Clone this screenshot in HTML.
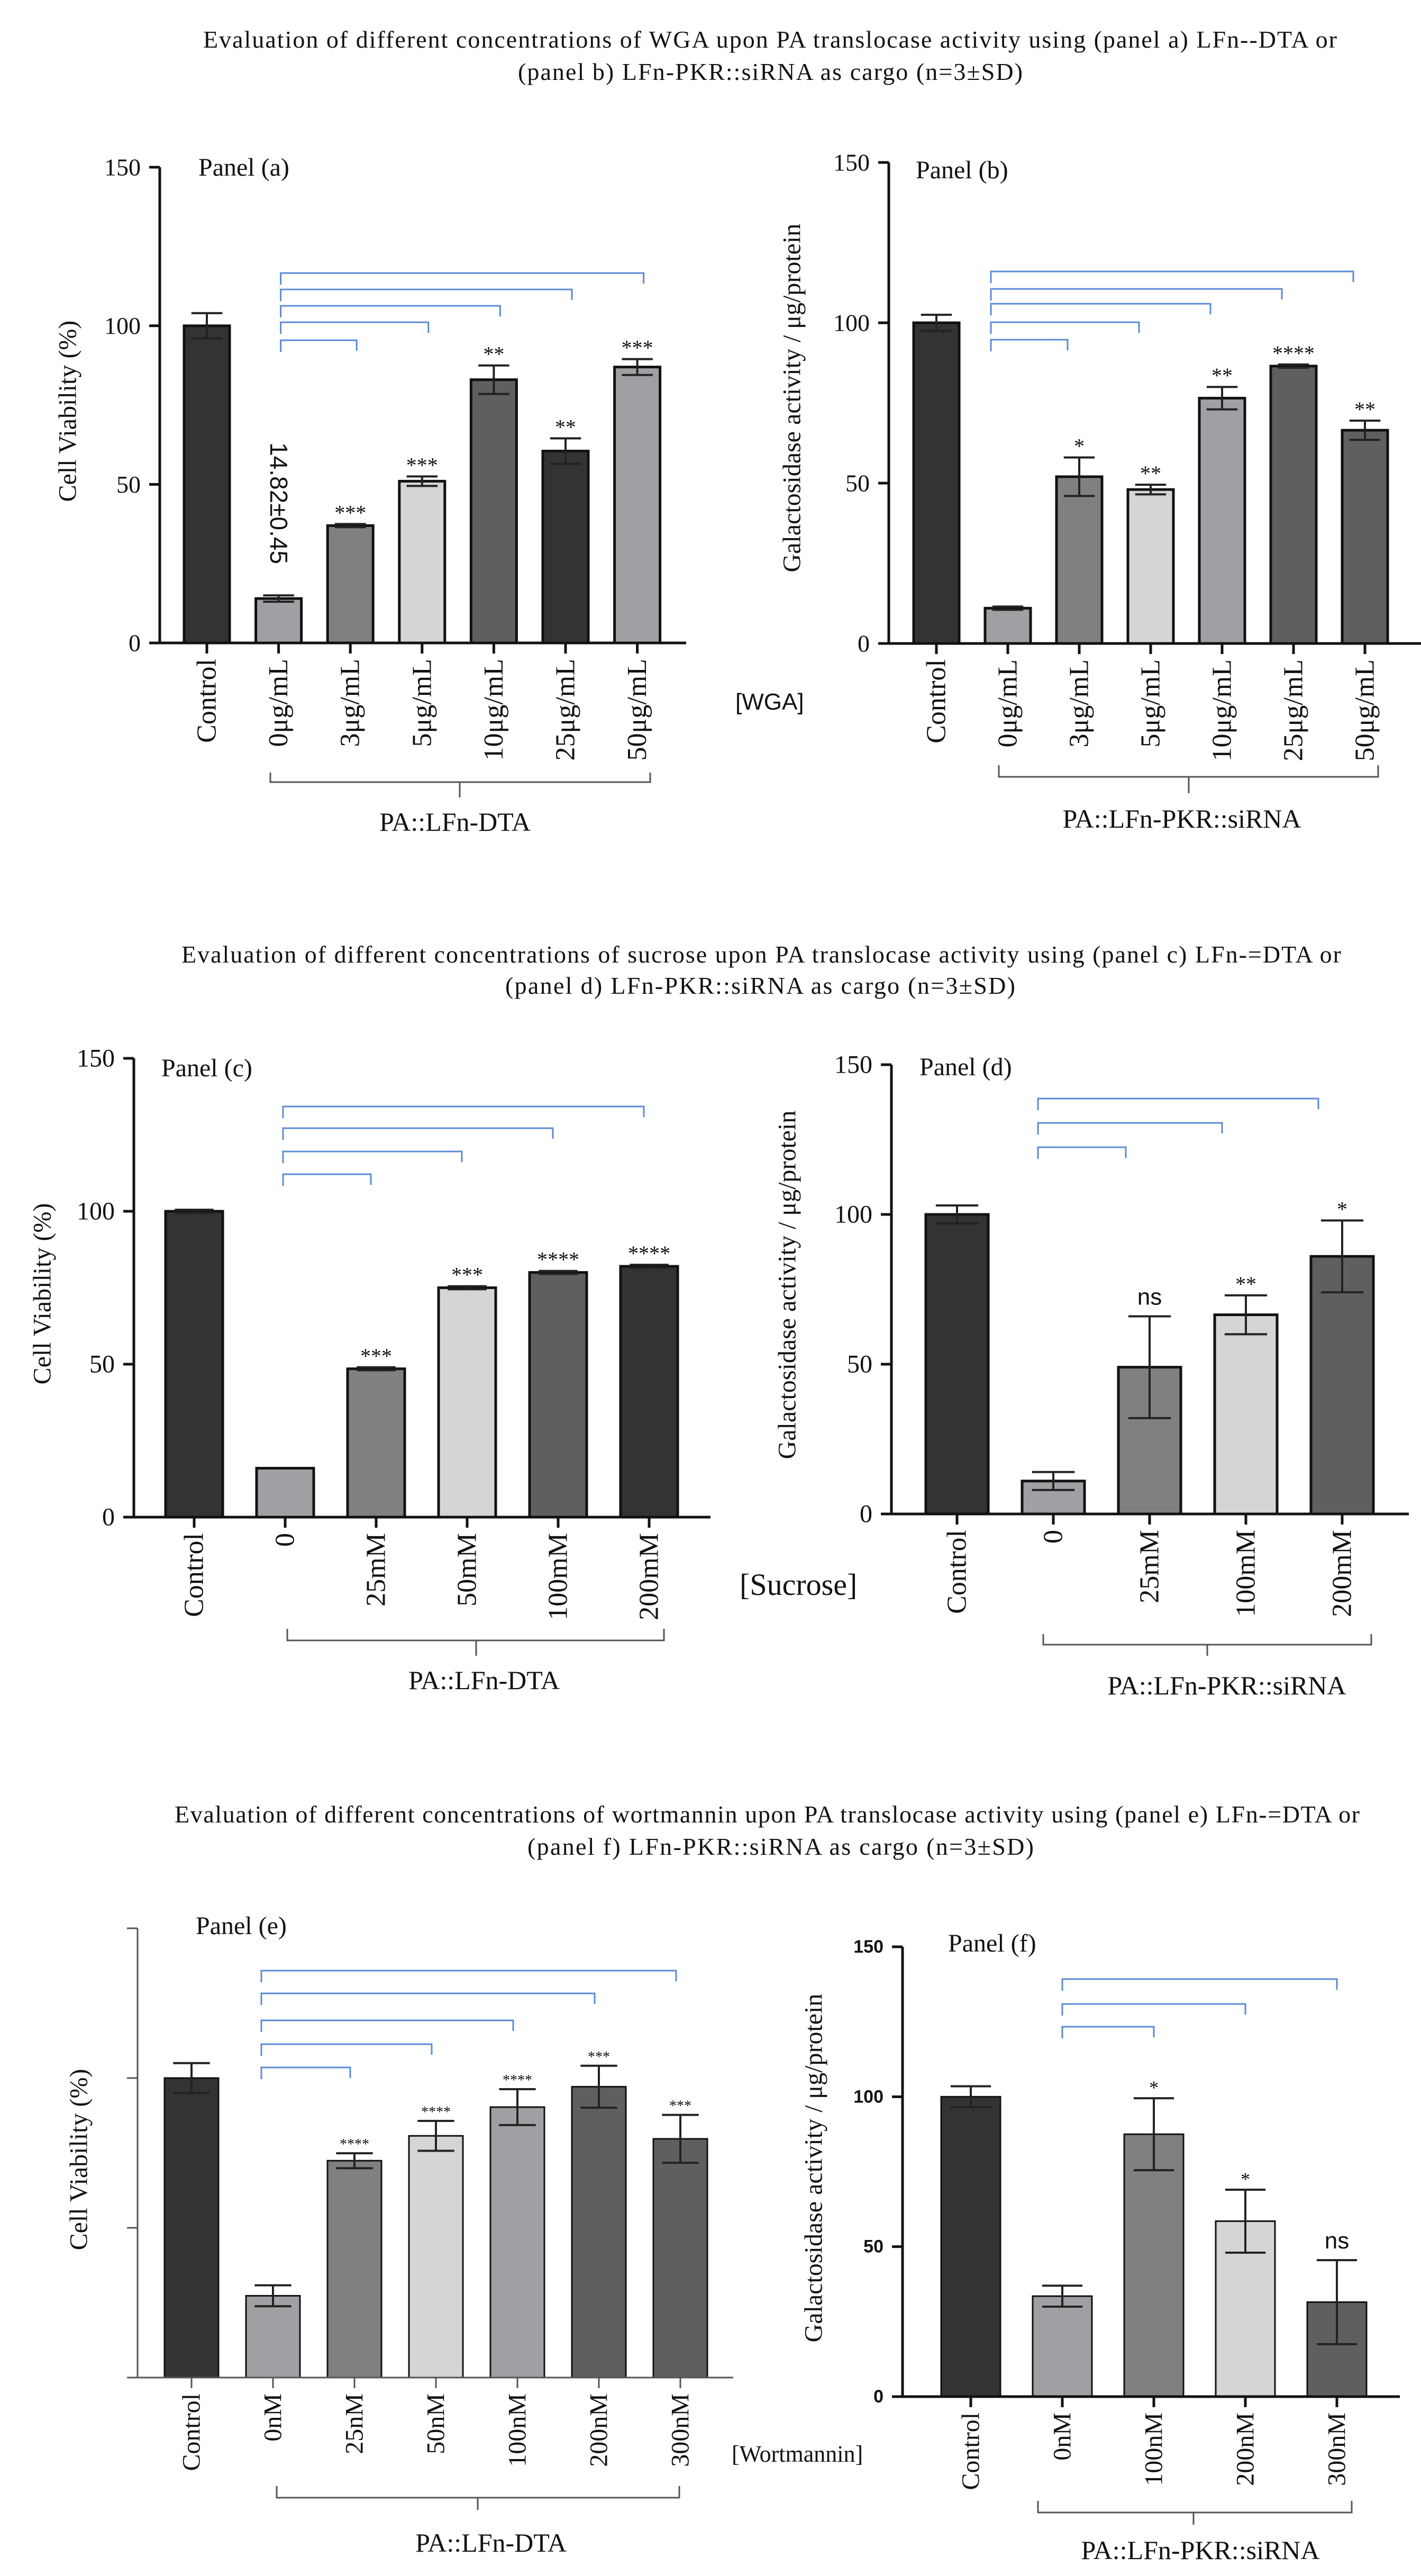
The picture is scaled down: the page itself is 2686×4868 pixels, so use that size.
<!DOCTYPE html>
<html><head><meta charset="utf-8">
<style>
html,body{margin:0;padding:0;background:#fff;}
svg{display:block;}
text{font-family:"Liberation Serif",serif;fill:#111;}
.sans{font-family:"Liberation Sans",sans-serif;}
</style></head>
<body>
<svg id="fig" xmlns="http://www.w3.org/2000/svg" width="2686" height="4868" viewBox="0 0 2686 4868">
<rect x="0" y="0" width="2686" height="4868" fill="#fff"/>
<g>
<text x="384" y="90" font-size="46" textLength="2143" lengthAdjust="spacing">Evaluation of different concentrations of WGA upon PA translocase activity using (panel a) LFn--DTA or</text>
<text x="979" y="151" font-size="46" textLength="954" lengthAdjust="spacing">(panel b) LFn-PKR::siRNA as cargo (n=3±SD)</text>
</g>
<g>
<text x="343" y="1819" font-size="46" textLength="2192" lengthAdjust="spacing">Evaluation of different concentrations of sucrose upon PA translocase activity using (panel c) LFn-=DTA or</text>
<text x="955" y="1878" font-size="46" textLength="964" lengthAdjust="spacing">(panel d) LFn-PKR::siRNA as cargo (n=3±SD)</text>
</g>
<g>
<text x="330" y="3444" font-size="46" textLength="2240" lengthAdjust="spacing">Evaluation of different concentrations of wortmannin upon PA translocase activity using (panel e) LFn-=DTA or</text>
<text x="997" y="3505" font-size="46" textLength="957" lengthAdjust="spacing">(panel f) LFn-PKR::siRNA as cargo (n=3±SD)</text>
</g>
<text x="1390" y="1341" font-size="44" class="sans">[WGA]</text>
<text x="1398" y="3014" font-size="58">[Sucrose]</text>
<text x="1383" y="4652" font-size="44">[Wortmannin]</text>
<text class="sans" font-size="46" transform="translate(527,951) rotate(90)" text-anchor="middle" dominant-baseline="central">14.82±0.45</text>
</svg>
<script>
// ---- Panel (a) data ----
const aCategories = ["Control","0μg/mL","3μg/mL","5μg/mL","10μg/mL","25μg/mL","50μg/mL"];
const aValues = [100, 14, 37, 51, 83, 60.5, 87];
const aErrors = [4, 1, 0.5, 1.5, 4.5, 4, 2.5];
const aStars = ["", "", "***", "***", "**", "**", "***"];
const aTicks = [0, 50, 100, 150];
// ---- Panel (b) data ----
const bCategories = ["Control","0μg/mL","3μg/mL","5μg/mL","10μg/mL","25μg/mL","50μg/mL"];
const bValues = [100, 11, 52, 48, 76.5, 86.5, 66.5];
const bErrors = [2.5, 0.5, 6, 1.5, 3.5, 0.5, 3];
const bStars = ["", "", "*", "**", "**", "****", "**"];
const bTicks = [0, 50, 100, 150];
// ---- Panel (c) data ----
const cCategories = ["Control","0","25mM","50mM","100mM","200mM"];
const cValues = [100, 16, 48.5, 75, 80, 82];
const cErrors = [0.5, 0, 0.5, 0.5, 0.5, 0.5];
const cStars = ["", "", "***", "***", "****", "****"];
const cTicks = [0, 50, 100, 150];
// ---- Panel (d) data ----
const dCategories = ["Control","0","25mM","100mM","200mM"];
const dValues = [100, 11, 49, 66.5, 86];
const dErrors = [3, 3, 17, 6.5, 12];
const dStars = ["", "", "ns", "**", "*"];
const dTicks = [0, 50, 100, 150];
// ---- Panel (e) data ----
const eCategories = ["Control","0nM","25nM","50nM","100nM","200nM","300nM"];
const eValues = [100, 27.3, 72.4, 80.7, 90.3, 97.1, 79.7];
const eErrors = [5, 3.5, 2.5, 5, 6, 7, 8];
const eStars = ["", "", "****", "****", "****", "***", "***"];
const eTicks = [0, 50, 100, 150];
// ---- Panel (f) data ----
const fCategories = ["Control","0nM","100nM","200nM","300nM"];
const fValues = [100, 33.5, 87.5, 58.5, 31.5];
const fErrors = [3.5, 3.5, 12, 10.5, 14];
const fStars = ["", "", "*", "*", "ns"];
const fTicks = [0, 50, 100, 150];

const NS = "http://www.w3.org/2000/svg";
const svg = document.getElementById("fig");
function mk(tag, attrs, parent) {
  const el = document.createElementNS(NS, tag);
  for (const k in attrs) el.setAttribute(k, attrs[k]);
  (parent || svg).appendChild(el);
  return el;
}

const panels = [
  {id:"a", cats:aCategories, vals:aValues, errs:aErrors, stars:aStars, ticks:aTicks,
   fills:["#333333","#a0a0a4","#808080","#d4d5d4","#5e5f5e","#333333","#a0a0a4"],
   ax:302, y0:1215, y150:316, bar0:391, step:135.6, bw:86, xEnd:1297,
   ytitle:"Cell Viability (%)", ytx:128, yty:777, label:"Panel (a)", lx:375, ly:332,
   blueTops:[643,609,578,547,516], blueTargets:[2,3,4,5,6], blueL:4, blueR:12,
   lb:{x1:511,x2:1229,xm:869,top:1460,mid:1478,bot:1507,ty:1570,tx:860,text:"PA::LFn-DTA"},
   tickFont:46, starFont:40, labelFont:52},
  {id:"b", cats:bCategories, vals:bValues, errs:bErrors, stars:bStars, ticks:bTicks,
   fills:["#333333","#a0a0a4","#808080","#d4d5d4","#a0a0a4","#5e5f5e","#5e5f5e"],
   ax:1680, y0:1216, y150:307, bar0:1770, step:135, bw:86, xEnd:2686,
   ytitle:"Galactosidase activity / μg/protein", ytx:1497, yty:752, label:"Panel (b)", lx:1731, ly:337,
   blueTops:[642,609,574,546,513], blueTargets:[2,3,4,5,6], blueL:-32, blueR:-22,
   lb:{x1:1888,x2:2605,xm:2247,top:1446,mid:1468,bot:1499,ty:1564,tx:2234,text:"PA::LFn-PKR::siRNA"},
   tickFont:46, starFont:40, labelFont:52},
  {id:"c", cats:cCategories, vals:cValues, errs:cErrors, stars:cStars, ticks:cTicks,
   fills:["#333333","#a0a0a4","#808080","#d4d5d4","#5e5f5e","#333333"],
   ax:253, y0:2867, y150:2000, bar0:367, step:172, bw:108, xEnd:1343,
   ytitle:"Cell Viability (%)", ytx:80, yty:2445, label:"Panel (c)", lx:305, ly:2034,
   blueTops:[2219,2176,2132,2091], blueTargets:[2,3,4,5], blueL:-4, blueR:-10,
   lb:{x1:543,x2:1255,xm:900,top:3078,mid:3100,bot:3129,ty:3192,tx:915,text:"PA::LFn-DTA"},
   tickFont:48, starFont:40, labelFont:52},
  {id:"d", cats:dCategories, vals:dValues, errs:dErrors, stars:dStars, ticks:dTicks,
   fills:["#333333","#a0a0a4","#808080","#d4d5d4","#5e5f5e"],
   ax:1685, y0:2861, y150:2012, bar0:1809, step:182, bw:118, xEnd:2663,
   ytitle:"Galactosidase activity / μg/protein", ytx:1488, yty:2428, label:"Panel (d)", lx:1738, ly:2032,
   blueTops:[2168,2122,2076], blueTargets:[2,3,4], blueL:-29, blueR:-45,
   lb:{x1:1972,x2:2592,xm:2282,top:3088,mid:3108,bot:3129,ty:3202,tx:2319,text:"PA::LFn-PKR::siRNA"},
   tickFont:48, starFont:40, labelFont:52},
  {id:"e", cats:eCategories, vals:eValues, errs:eErrors, stars:eStars, ticks:eTicks,
   fills:["#333333","#a0a0a4","#808080","#d4d5d4","#a0a0a4","#5e5f5e","#5e5f5e"],
   ax:260, y0:4493, y150:3644, bar0:362, step:154, bw:102, xEnd:1386, noTickLabels:true, axisColor:"#555", axisW:3,
   ytitle:"Cell Viability (%)", ytx:149, yty:4081, label:"Panel (e)", lx:370, ly:3655,
   blueTops:[3907,3863,3818,3767,3724], blueTargets:[2,3,4,5,6], blueL:-22, blueR:-8,
   lb:{x1:523,x2:1284,xm:903,top:4698,mid:4720,bot:4743,ty:4822,tx:928,text:"PA::LFn-DTA"},
   tickFont:44, starFont:28, labelFont:48, barW:3},
  {id:"f", cats:fCategories, vals:fValues, errs:fErrors, stars:fStars, ticks:fTicks,
   fills:["#333333","#a0a0a4","#808080","#d4d5d4","#5e5f5e"],
   ax:1706, y0:4529, y150:3679, bar0:1835, step:173, bw:112, xEnd:2646, boldTicks:true,
   ytitle:"Galactosidase activity / μg/protein", ytx:1538, yty:4097, label:"Panel (f)", lx:1792, ly:3688,
   blueTops:[3830,3787,3740], blueTargets:[2,3,4], blueL:0, blueR:0,
   lb:{x1:1962,x2:2555,xm:2256,top:4726,mid:4748,bot:4771,ty:4836,tx:2269,text:"PA::LFn-PKR::siRNA"},
   tickFont:34, starFont:36, labelFont:48, barW:3}
];

panels.forEach(function(p) {
  const g = mk("g", {});
  
  
  const yS = function(v) { return p.y0 - v * (p.y0 - p.y150) / 150; };
  const xS = function(i) { return p.bar0 + i * p.step; };
  const axc = p.axisColor || "#111", aw = p.axisW || 5;

  p.vals.forEach(function(v, i) {
    const r = mk("rect", {x: xS(i) - p.bw/2, y: yS(v), width: p.bw, height: p.y0 - yS(v),
      fill: p.fills[i], stroke: "#111", "stroke-width": p.barW || 5}, g);
    
    
  });
  p.vals.forEach(function(v, i) {
    const e = p.errs[i];
    if (e <= 0) return;
    const cx = xS(i), cw = p.bw * 0.34;
    const eg = mk("g", {stroke: "#222", "stroke-width": 4}, g);
    
    
    mk("line", {x1: cx, x2: cx, y1: yS(v - e), y2: yS(v + e)}, eg);
    mk("line", {x1: cx - cw, x2: cx + cw, y1: yS(v + e), y2: yS(v + e)}, eg);
    mk("line", {x1: cx - cw, x2: cx + cw, y1: yS(v - e), y2: yS(v - e)}, eg);
  });
  p.stars.forEach(function(s, i) {
    if (!s) return;
    const v = p.vals[i] + p.errs[i];
    const isNs = s === "ns";
    const t = mk("text", {x: xS(i), y: yS(v) - (isNs ? 22 : 8), "text-anchor": "middle",
      "font-size": isNs ? 44 : p.starFont}, g);
    if (isNs) t.setAttribute("class", "sans");
    t.textContent = s;
    
    
  });
  const ya = mk("line", {x1: p.ax, x2: p.ax, y1: p.y150, y2: p.y0, stroke: axc, "stroke-width": aw}, g);
  
  
  const xa = mk("line", {x1: p.ax - 20, x2: p.xEnd, y1: p.y0, y2: p.y0, stroke: axc, "stroke-width": aw}, g);
  
  
  p.ticks.forEach(function(t) {
    mk("line", {x1: p.ax - 20, x2: p.ax, y1: yS(t), y2: yS(t), stroke: axc, "stroke-width": aw}, g);
    if (!p.noTickLabels) {
      const tl = mk("text", {x: p.ax - 36, y: yS(t), "text-anchor": "end", "dominant-baseline": "central",
        "font-size": p.tickFont}, g);
      if (p.boldTicks) { tl.setAttribute("class", "sans"); tl.setAttribute("font-weight", "bold"); }
      tl.textContent = t;
      
      
    }
  });
  p.cats.forEach(function(c, i) {
    mk("line", {x1: xS(i), x2: xS(i), y1: p.y0, y2: p.y0 + 20, stroke: axc, "stroke-width": aw}, g);
    const tx = mk("text", {transform: "translate(" + xS(i) + "," + (p.y0 + 30) + ") rotate(-90)",
      "text-anchor": "end", "dominant-baseline": "central", "font-size": p.labelFont}, g);
    tx.textContent = c;
    
    
  });
  const yt = mk("text", {transform: "translate(" + p.ytx + "," + p.yty + ") rotate(-90)",
    "text-anchor": "middle", "dominant-baseline": "central", "font-size": 48}, g);
  yt.textContent = p.ytitle;
  
  
  const pl = mk("text", {x: p.lx, y: p.ly, "font-size": 48}, g);
  pl.textContent = p.label;
  
  
  p.blueTops.forEach(function(top, k) {
    const xl = xS(1) + p.blueL, xr = xS(p.blueTargets[k]) + p.blueR;
    const br = mk("path", {d: "M" + xl + "," + (top + 22) + " L" + xl + "," + top + " L" + xr + "," + top + " L" + xr + "," + (top + 20),
      fill: "none", stroke: "#5b8bd6", "stroke-width": 3}, g);
    
    
  });
  const b = p.lb;
  const gb = mk("path", {d: "M" + b.x1 + "," + b.top + " L" + b.x1 + "," + b.mid + " L" + b.x2 + "," + b.mid + " L" + b.x2 + "," + b.top +
    " M" + b.xm + "," + b.mid + " L" + b.xm + "," + b.bot, fill: "none", stroke: "#555", "stroke-width": 3}, g);
  
  
  const gl = mk("text", {x: b.tx, y: b.ty, "text-anchor": "middle", "font-size": 50}, g);
  gl.textContent = b.text;
  
  
});
</script>
</body></html>
